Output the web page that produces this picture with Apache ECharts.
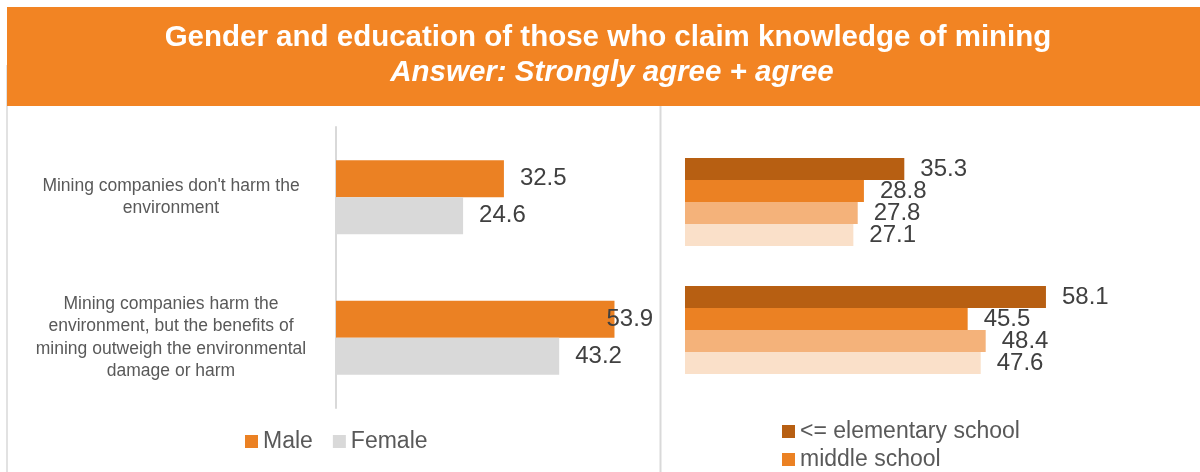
<!DOCTYPE html>
<html>
<head>
<meta charset="utf-8">
<script src="https://cdn.jsdelivr.net/npm/echarts@6/dist/echarts.min.js"></script>
<style>
  html, body { margin: 0; padding: 0; background: #ffffff; }
  #chart { width: 1200px; height: 472px; }
</style>
</head>
<body>
<div id="chart"></div>
<script>
// Statements shown on the left panel (one row per statement)
const statements = [
  "Mining companies don't harm the\nenvironment",
  "Mining companies harm the\nenvironment, but the benefits of\nmining outweigh the environmental\ndamage or harm"
];

// Gender breakdown (%)
const maleValues = [32.5, 53.9];
const femaleValues = [24.6, 43.2];

// Education breakdown (%)
const educationNames = ["<= elementary school", "middle school", "high school", "university"];
const elementaryValues = [35.3, 58.1];
const middleValues = [28.8, 45.5];
const highValues = [27.8, 48.4];
const universityValues = [27.1, 47.6];

const FONT = "'Liberation Sans', Arial, sans-serif";
const ORANGE = '#F28423';
const BORDER = '#D9D9D9';

const valueLabel = {
  show: true,
  position: 'right',
  distance: 16,
  color: '#404040',
  fontSize: 24,
  fontFamily: FONT
};

function labelledData(values, tweaks) {
  return values.map((v, i) => (tweaks && tweaks[i]) ? { value: v, label: tweaks[i] } : v);
}

const chart = echarts.init(document.getElementById('chart'), null, { renderer: 'canvas' });

chart.setOption({
  animation: false,
  backgroundColor: '#ffffff',
  textStyle: { fontFamily: FONT },
  graphic: [
    { type: 'line', shape: { x1: 7, y1: 65, x2: 7, y2: 472 }, style: { stroke: BORDER, lineWidth: 1.5 }, z: 0 },
    { type: 'rect', shape: { x: 7, y: 7, width: 1193, height: 99 }, style: { fill: ORANGE }, z: 1 },
    { type: 'line', shape: { x1: 660.5, y1: 106, x2: 660.5, y2: 472 }, style: { stroke: BORDER, lineWidth: 2 }, z: 1 }
  ],
  title: [
    {
      text: 'Gender and education of those who claim knowledge of mining',
      left: 603, top: 18, textAlign: 'center',
      textStyle: { color: '#ffffff', fontSize: 29.5, fontWeight: 'bold', fontFamily: FONT }
    },
    {
      text: 'Answer: Strongly agree + agree',
      left: 607, top: 53, textAlign: 'center',
      textStyle: { color: '#ffffff', fontSize: 29.5, fontWeight: 'bold', fontStyle: 'italic', fontFamily: FONT }
    }
  ],
  legend: [
    {
      data: ['Male', 'Female'],
      orient: 'horizontal',
      left: 240, top: 425,
      itemWidth: 13, itemHeight: 13, itemGap: 20,
      icon: 'rect',
      textStyle: { color: '#595959', fontSize: 23, fontFamily: FONT }
    },
    {
      data: educationNames,
      orient: 'vertical',
      left: 777, top: 415, height: 200,
      itemWidth: 13, itemHeight: 13, itemGap: 5,
      icon: 'rect',
      textStyle: { color: '#595959', fontSize: 23, fontFamily: FONT }
    }
  ],
  grid: [
    { left: 336, top: 127, width: 310, height: 281 },
    { left: 685, top: 138, width: 497, height: 256 }
  ],
  xAxis: [
    { gridIndex: 0, type: 'value', min: 0, max: 60, show: false },
    { gridIndex: 1, type: 'value', min: 0, max: 80, show: false }
  ],
  yAxis: [
    {
      gridIndex: 0, type: 'category', data: statements, inverse: true,
      axisLine: { show: true, lineStyle: { color: BORDER, width: 2 } },
      axisTick: { show: false },
      axisLabel: {
        color: '#595959', fontSize: 17.5, lineHeight: 22.5, fontFamily: FONT,
        align: 'center', margin: 165
      }
    },
    {
      gridIndex: 1, type: 'category', data: statements, inverse: true,
      axisLine: { show: false }, axisTick: { show: false }, axisLabel: { show: false }
    }
  ],
  series: [
    {
      name: 'Male', type: 'bar', xAxisIndex: 0, yAxisIndex: 0,
      barWidth: 37, barGap: '0%',
      itemStyle: { color: '#EB8123' },
      label: valueLabel,
      data: labelledData(maleValues, { 1: { offset: [-24, 0] } })
    },
    {
      name: 'Female', type: 'bar', xAxisIndex: 0, yAxisIndex: 0,
      barWidth: 37, barGap: '0%',
      itemStyle: { color: '#D9D9D9' },
      label: valueLabel,
      data: femaleValues
    },
    {
      name: educationNames[0], type: 'bar', xAxisIndex: 1, yAxisIndex: 1,
      barWidth: 22, barGap: '0%',
      itemStyle: { color: '#B75F12' },
      label: valueLabel,
      data: elementaryValues
    },
    {
      name: educationNames[1], type: 'bar', xAxisIndex: 1, yAxisIndex: 1,
      barWidth: 22, barGap: '0%',
      itemStyle: { color: '#EB8123' },
      label: valueLabel,
      data: middleValues
    },
    {
      name: educationNames[2], type: 'bar', xAxisIndex: 1, yAxisIndex: 1,
      barWidth: 22, barGap: '0%',
      itemStyle: { color: '#F4B27A' },
      label: valueLabel,
      data: highValues
    },
    {
      name: educationNames[3], type: 'bar', xAxisIndex: 1, yAxisIndex: 1,
      barWidth: 22, barGap: '0%',
      itemStyle: { color: '#FAE0C9' },
      label: valueLabel,
      data: universityValues
    }
  ]
});
</script>
</body>
</html>
